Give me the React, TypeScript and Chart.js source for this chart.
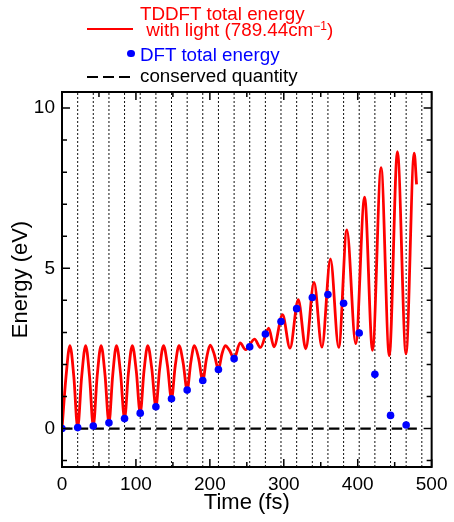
import { useEffect, useRef } from "react";
import { Chart, registerables } from "chart.js";

Chart.register(...registerables);

// ---- data ----
const tddftTimes = [
  0, 5.4, 10.7, 16.0, 21.2, 26.6, 32.0, 37.2, 42.3, 47.6, 52.9, 58.2, 63.5, 68.6, 73.7, 79.2,
  84.6, 89.8, 95.1, 100.5, 105.8, 110.9, 116.0, 121.5, 127.0, 132.1, 137.3, 142.7, 148.1,
  153.2, 158.3, 163.8, 169.3, 174.2, 179.1, 184.8, 190.4, 195.4, 200.4, 206.0, 211.6, 216.2,
  220.9, 226.8, 232.8, 240.9, 248.4, 260.4, 268.4, 279.6, 286.7, 298.3, 308.4, 319.6, 329.7,
  340.9, 351.6, 363.1, 374.3, 385.3, 397.3, 409.3, 420.0, 431.6, 442.7, 453.7, 465.3, 476.4,
  479.6,
];
const tddftEnergy = [
  0, 1.61, 2.59, 1.62, 0.03, 1.62, 2.59, 1.64, 0.08, 1.64, 2.59, 1.67, 0.18, 1.67, 2.59, 1.72,
  0.31, 1.72, 2.59, 1.79, 0.48, 1.79, 2.59, 1.86, 0.68, 1.86, 2.59, 1.96, 0.93, 1.96, 2.59,
  2.06, 1.2, 2.06, 2.59, 2.18, 1.5, 2.18, 2.6, 2.31, 1.84, 2.31, 2.59, 2.43, 2.18, 2.67, 2.46,
  2.79, 2.53, 3.13, 2.55, 3.55, 2.51, 4.02, 2.49, 4.56, 2.54, 5.29, 2.53, 6.2, 2.65, 7.22,
  2.44, 8.14, 2.27, 8.64, 2.33, 8.59, 7.62,
];
const dftTimes = [
  0, 21.2, 42.3, 63.5, 84.6, 105.8, 127.0, 148.1, 169.3, 190.4, 211.6, 232.8, 253.9, 275.1,
  296.2, 317.4, 338.6, 359.7, 380.9, 402.0, 423.2, 444.4, 465.5,
];
const dftEnergy = [
  0, 0.03, 0.08, 0.18, 0.31, 0.48, 0.68, 0.93, 1.2, 1.5, 1.84, 2.18, 2.55, 2.95, 3.34, 3.74,
  4.09, 4.18, 3.91, 2.98, 1.69, 0.41, 0.11,
];
const conservedTimes = [0, 480];
const conservedEnergy = [0, 0];
const fieldNodeTimes = [
  21.2, 42.3, 63.5, 84.6, 105.8, 127.0, 148.1, 169.3, 190.4, 211.6, 232.8, 253.9, 275.1, 296.2,
  317.4, 338.6, 359.7, 380.9, 402.0, 423.2, 444.4, 465.5, 486.7,
];
const xTickLabels = [0, 100, 200, 300, 400, 500];
const yTickLabels = [0, 5, 10];
const xMin = 0;
const xMax = 500;
const yMin = -1.2;
const yMax = 10.5;

const FONT = '"Liberation Sans", Arial, Helvetica, sans-serif';

const framePlugin = {
  id: "frameTicks",
  afterDatasetsDraw(chart: any) {
    const { ctx, chartArea: a, scales } = chart;
    const xs = scales.x;
    const ys = scales.y;
    ctx.save();
    ctx.strokeStyle = "#000";
    ctx.lineWidth = 1.5;
    ctx.beginPath();
    for (let v = xMin; v <= xMax; v += 50) {
      const x = xs.getPixelForValue(v);
      const len = v % 100 === 0 ? 8 : 5;
      ctx.moveTo(x, a.bottom);
      ctx.lineTo(x, a.bottom - len);
      ctx.moveTo(x, a.top);
      ctx.lineTo(x, a.top + len);
    }
    for (let v = -1; v <= 10; v += 1) {
      const y = ys.getPixelForValue(v);
      const len = v % 5 === 0 ? 8 : 5;
      ctx.moveTo(a.left, y);
      ctx.lineTo(a.left + len, y);
      ctx.moveTo(a.right, y);
      ctx.lineTo(a.right - len, y);
    }
    ctx.stroke();
    ctx.lineWidth = 2;
    ctx.strokeRect(a.left, a.top, a.right - a.left, a.bottom - a.top);
    ctx.restore();
  },
};

export default function App() {
  const canvasRef = useRef<HTMLCanvasElement | null>(null);

  useEffect(() => {
    const canvas = canvasRef.current;
    if (!canvas) return;

    const nodeSets = fieldNodeTimes.map((t) => ({
      type: "line" as const,
      data: [
        { x: t, y: yMin },
        { x: t, y: yMax },
      ],
      borderColor: "#111",
      borderWidth: 1,
      borderDash: [2, 2],
      pointRadius: 0,
      order: 5,
    }));

    const chart = new Chart(canvas, {
      type: "line",
      data: {
        datasets: [
          ...nodeSets,
          {
            type: "line",
            label: "conserved quantity",
            data: conservedTimes.map((t, i) => ({ x: t, y: conservedEnergy[i] })),
            borderColor: "#000",
            borderWidth: 2.2,
            borderDash: [10.5, 5.2],
            pointRadius: 0,
            order: 4,
          },
          {
            type: "line",
            label: "TDDFT total energy",
            data: tddftTimes.map((t, i) => ({ x: t, y: tddftEnergy[i] })),
            borderColor: "#ff0000",
            borderWidth: 2.8,
            pointRadius: 0,
            cubicInterpolationMode: "monotone",
            order: 2,
          },
          {
            type: "line",
            label: "DFT total energy",
            data: dftTimes.map((t, i) => ({ x: t, y: dftEnergy[i] })),
            showLine: false,
            pointRadius: 3.8,
            pointBackgroundColor: "#0000ff",
            pointBorderColor: "#0000ff",
            pointBorderWidth: 0,
            order: 1,
          },
        ] as any,
      },
      options: {
        animation: false,
        responsive: false,
        devicePixelRatio: 1,
        events: [],
        layout: { padding: { top: 92, right: 17, left: 0, bottom: 0 } },
        plugins: {
          legend: { display: false },
          tooltip: { enabled: false },
        },
        scales: {
          x: {
            type: "linear",
            min: xMin,
            max: xMax,
            grid: { display: false, drawTicks: false },
            border: { display: false },
            afterBuildTicks: (s: any) => {
              s.ticks = xTickLabels.map((v) => ({ value: v }));
            },
            afterFit: (s: any) => {
              s.height = 55;
            },
            ticks: {
              padding: 6.5,
              color: "#000",
              font: { family: FONT, size: 19 },
              maxRotation: 0,
              autoSkip: false,
            },
            title: {
              display: true,
              text: "Time (fs)",
              color: "#000",
              font: { family: FONT, size: 22 },
              padding: { top: 0, bottom: 6 },
            },
          },
          y: {
            type: "linear",
            min: yMin,
            max: yMax,
            grid: { display: false, drawTicks: false },
            border: { display: false },
            afterBuildTicks: (s: any) => {
              s.ticks = yTickLabels.map((v) => ({ value: v }));
            },
            afterFit: (s: any) => {
              s.width = 62;
            },
            ticks: {
              padding: 7,
              color: "#000",
              font: { family: FONT, size: 19 },
              autoSkip: false,
            },
            title: {
              display: true,
              text: "Energy (eV)",
              color: "#000",
              font: { family: FONT, size: 22 },
              padding: { top: 7.3, bottom: 0 },
            },
          },
        },
      },
      plugins: [framePlugin],
    });

    return () => {
      chart.destroy();
    };
  }, []);

  const legendText: React.CSSProperties = {
    position: "absolute",
    fontFamily: FONT,
    fontSize: 18.8,
    lineHeight: "18.8px",
    whiteSpace: "pre",
    margin: 0,
  };

  return (
    <div style={{ position: "absolute", left: 0, top: 0, width: 454, height: 522, background: "#fff" }}>
      <canvas ref={canvasRef} width={454} height={522} style={{ width: 454, height: 522, display: "block" }} />
      {/* legend */}
      <div style={{ position: "absolute", left: 87, top: 27.5, width: 46, height: 2.5, background: "#ff0000" }} />
      <div style={{ ...legendText, left: 140, top: 4.8, color: "#ff0000" }}>TDDFT total energy</div>
      <div style={{ ...legendText, left: 141, top: 21.3, color: "#ff0000" }}>
        {" with light (789.44cm"}
        <span style={{ fontSize: 12, position: "relative", top: -6 }}>{"\u22121"}</span>
        {")"}
      </div>
      <div
        style={{
          position: "absolute",
          left: 131 - 3.8,
          top: 53.3 - 3.8,
          width: 7.6,
          height: 7.6,
          borderRadius: "50%",
          background: "#0000ff",
        }}
      />
      <div style={{ ...legendText, left: 140, top: 45.8, color: "#0000ff" }}>DFT total energy</div>
      {[0, 1, 2].map((i) => (
        <div
          key={i}
          style={{ position: "absolute", left: 87 + i * 16, top: 75.5, width: 11, height: 2.3, background: "#000" }}
        />
      ))}
      <div style={{ ...legendText, left: 140, top: 66.8, color: "#000" }}>conserved quantity</div>
    </div>
  );
}
